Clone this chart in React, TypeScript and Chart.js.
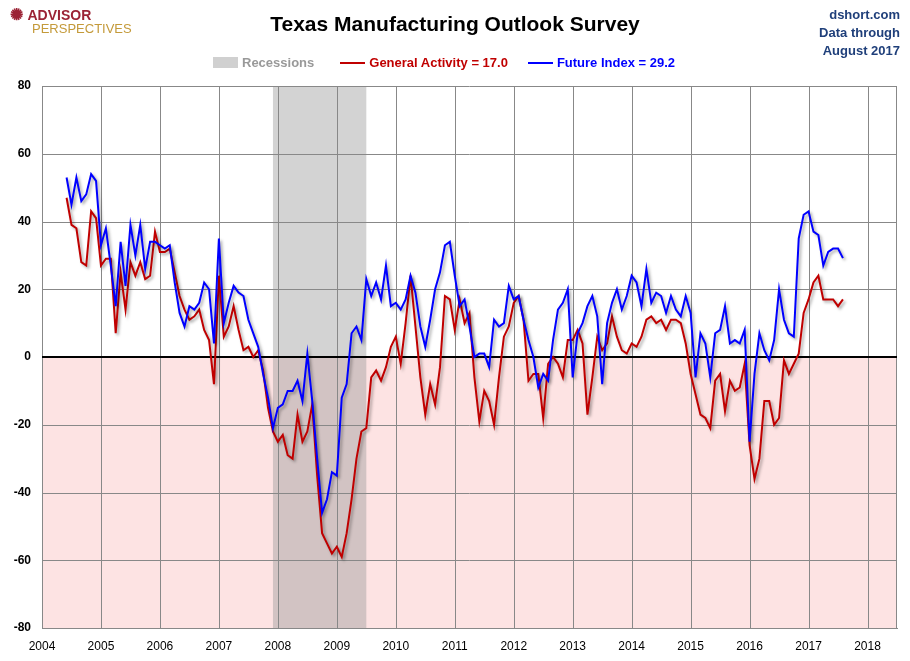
import React, { useEffect, useRef } from 'react';
import { Chart, registerables } from 'chart.js';

Chart.register(...registerables);

const startYear = 2004 + 5 / 12; // June 2004
const generalActivity = [
  47, 39, 38, 28, 27, 43, 41,
  27, 29, 29, 7, 25, 14, 28, 24, 28, 23, 24, 37,
  31, 31, 32, 25, 18, 14, 11, 12, 14, 8, 5, -8,
  24, 6, 9, 15, 8, 2, 3, 0, 2, -4, -15, -22,
  -25, -23, -29, -30, -17, -25, -22, -14, -35, -52, -55, -58,
  -56, -59, -52, -42, -30, -22, -21, -6, -4, -7, -3, 3,
  6, -2, 10, 24, 9, -6, -17, -8, -14, -3, 18, 17,
  8, 17, 10, 13, -6, -19, -10, -13, -20, -6, 6, 9,
  16, 18, 11, -7, -5, -5, -18, -2, 0, -2, -6, 5,
  5, 8, 4, -17, -6, 6, 2, 4, 12, 6, 2, 1,
  4, 3, 6, 11, 12, 10, 11, 8, 11, 11, 10, 4,
  -5, -11, -17, -18, -21, -7, -5, -16, -7, -10, -9, -2,
  -26, -36, -30, -13, -13, -20, -18, -1, -5, -2, 1, 13,
  17, 22, 24, 17, 17, 17, 15, 17,
];
const futureIndex = [
  53, 45, 53, 46, 48, 54, 52,
  33, 38, 27, 15, 34, 21, 39, 30, 39, 26, 34, 34,
  33, 32, 33, 22, 13, 9, 15, 14, 16, 22, 20, 4,
  35, 10, 16, 21, 19, 18, 11, 7, 3, -5, -12, -21,
  -15, -14, -10, -10, -7, -13, 1, -13, -30, -46, -42, -34,
  -35, -12, -8, 7, 9, 5, 23, 18, 22, 17, 27, 15,
  16, 14, 17, 24, 19, 9, 3, 11, 20, 25, 33, 34,
  24, 15, 17, 9, 0, 1, 1, -3, 11, 9, 10, 21,
  17, 18, 11, 5, 0, -9, -5, -7, 5, 14, 16, 20,
  -6, 7, 10, 15, 18, 12, -8, 10, 16, 20, 14, 18,
  24, 22, 15, 26, 16, 19, 18, 13, 18, 14, 12, 18,
  13, -6, 7, 4, -6, 7, 8, 15, 4, 5, 4, 8,
  -25, -5, 7, 2, -1, 5, 20, 11, 7, 6, 35, 42,
  43, 37, 36, 27, 31, 32, 32, 29.2,
];
const yTicks = [-80, -60, -40, -20, 0, 20, 40, 60, 80];
const xTicks = [2004, 2005, 2006, 2007, 2008, 2009, 2010, 2011, 2012, 2013, 2014, 2015, 2016, 2017, 2018];
const recession = [2007 + 11 / 12, 2009 + 6 / 12];

const toPoints = (vals: number[]) => vals.map((y, i) => ({ x: startYear + i / 12, y }));

const backdrop = {
  id: 'backdrop',
  beforeDatasetsDraw(chart: any) {
    const { ctx, chartArea: a, scales } = chart;
    const y0 = scales.y.getPixelForValue(0);
    ctx.save();
    ctx.fillStyle = '#fde3e3';
    ctx.fillRect(a.left, y0, a.right - a.left, a.bottom - y0);
    const x1 = scales.x.getPixelForValue(recession[0]);
    const x2 = scales.x.getPixelForValue(recession[1]);
    ctx.fillStyle = 'rgba(150,150,150,0.42)';
    ctx.fillRect(x1, a.top, x2 - x1, a.bottom - a.top);
    // grid drawn over the fills
    ctx.strokeStyle = '#888';
    ctx.lineWidth = 1;
    ctx.beginPath();
    xTicks.forEach((t) => {
      const x = Math.round(scales.x.getPixelForValue(t)) + 0.5;
      ctx.moveTo(x, a.top); ctx.lineTo(x, a.bottom);
    });
    ctx.moveTo(Math.round(a.right) - 0.5, a.top); ctx.lineTo(Math.round(a.right) - 0.5, a.bottom);
    yTicks.forEach((t) => {
      const y = Math.round(scales.y.getPixelForValue(t)) + 0.5;
      ctx.moveTo(a.left, y); ctx.lineTo(a.right, y);
    });
    ctx.stroke();
    ctx.strokeStyle = '#000';
    ctx.lineWidth = 2;
    ctx.beginPath();
    ctx.moveTo(a.left, y0); ctx.lineTo(a.right, y0);
    ctx.stroke();
    ctx.restore();
  },
  beforeDatasetDraw(chart: any) {
    const ctx = chart.ctx;
    ctx.save();
    ctx.shadowColor = 'rgba(0,0,0,0.35)';
    ctx.shadowBlur = 3;
    ctx.shadowOffsetX = 2;
    ctx.shadowOffsetY = 2;
  },
  afterDatasetDraw(chart: any) {
    chart.ctx.restore();
  },
};

const App = () => {
  const chartRef = useRef<HTMLCanvasElement>(null);

  useEffect(() => {
    document.body.style.margin = '0';
    const chart = new Chart(chartRef.current!, {
      type: 'line',
      data: {
        datasets: [
          { label: 'Future Index', data: toPoints(futureIndex), borderColor: '#0000ff', borderWidth: 2, pointRadius: 0, tension: 0 },
          { label: 'General Activity', data: toPoints(generalActivity), borderColor: '#c00000', borderWidth: 2, pointRadius: 0, tension: 0 },
        ],
      },
      options: {
        animation: false,
        responsive: false,
        layout: { padding: { top: 86, right: 13, left: 0, bottom: 0 } },
        plugins: { legend: { display: false }, tooltip: { enabled: false } },
        scales: {
          x: {
            type: 'linear', min: 2004, max: 2018.5,
            afterBuildTicks: (s: any) => { s.ticks = xTicks.map((v) => ({ value: v })); },
            afterFit: (s: any) => { s.height = 33; },
            grid: { display: false },
            border: { color: '#888' },
            ticks: { color: '#000', font: { family: 'Arial, Liberation Sans', size: 12 }, callback: (v: any) => String(v) },
          },
          y: {
            min: -80, max: 80,
            afterBuildTicks: (s: any) => { s.ticks = yTicks.map((v) => ({ value: v })); },
            afterFit: (s: any) => { s.width = 42; },
            grid: { display: false },
            border: { color: '#888' },
            ticks: { color: '#000', font: { family: 'Arial, Liberation Sans', size: 12, weight: 'bold' } },
          },
        },
      },
      plugins: [backdrop],
    });
    return () => chart.destroy();
  }, []);

  const font = 'Arial, "Liberation Sans", sans-serif';
  return (
    <div style={{ position: 'relative', width: 910, height: 661, fontFamily: font, background: '#fff' }}>
      <canvas ref={chartRef} width={910} height={661} style={{ position: 'absolute', left: 0, top: 0 }} />
      <div style={{ position: 'absolute', left: 10, top: 8, color: '#9b2335', fontWeight: 'bold', fontSize: 14, lineHeight: '13px' }}>
        <span style={{ fontSize: 16 }}>✺ </span>ADVISOR<br />
        <span style={{ marginLeft: 22, fontWeight: 'normal', color: '#c49a3a', fontSize: 13 }}>PERSPECTIVES</span>
      </div>
      <div style={{ position: 'absolute', left: 0, width: 910, top: 12, textAlign: 'center', fontSize: 21, fontWeight: 'bold' }}>
        Texas Manufacturing Outlook Survey
      </div>
      <div style={{ position: 'absolute', right: 10, top: 6, textAlign: 'right', fontSize: 13, fontWeight: 'bold', color: '#1f3f7a', lineHeight: '18px' }}>
        dshort.com<br />Data through<br />August 2017
      </div>
      <div style={{ position: 'absolute', top: 55, left: 213, display: 'flex', alignItems: 'center', fontSize: 13, fontWeight: 'bold' }}>
        <span style={{ display: 'inline-block', width: 25, height: 11, background: '#d0d0d0', marginRight: 4 }} />
        <span style={{ color: '#999', marginRight: 26 }}>Recessions</span>
        <span style={{ display: 'inline-block', width: 25, height: 2, background: '#c00000', marginRight: 4 }} />
        <span style={{ color: '#c00000', marginRight: 20 }}>General Activity = 17.0</span>
        <span style={{ display: 'inline-block', width: 25, height: 2, background: '#0000ff', marginRight: 4 }} />
        <span style={{ color: '#0000ff' }}>Future Index = 29.2</span>
      </div>
    </div>
  );
};

export default App;
